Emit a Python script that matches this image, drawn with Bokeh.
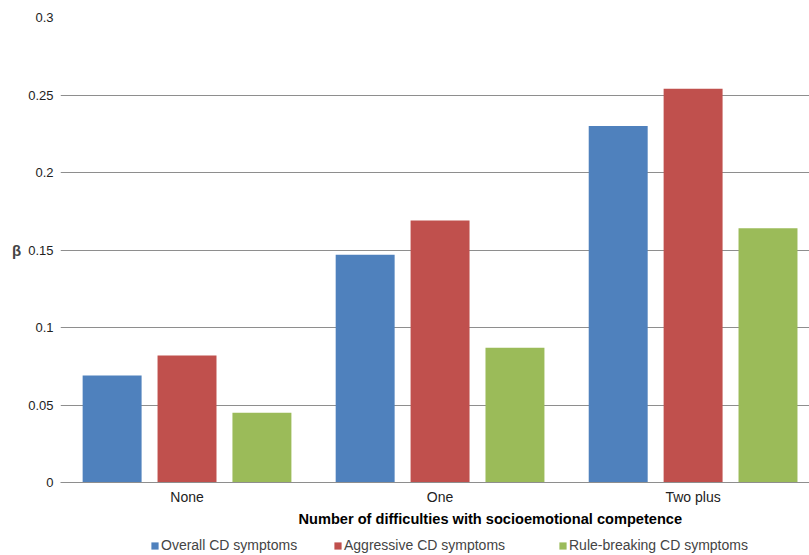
from bokeh.plotting import figure
from bokeh.layouts import column
from bokeh.models import (Range1d, FixedTicker, Legend, LegendItem, Title,
                          ColumnDataSource)
from bokeh.embed import file_html
from bokeh.resources import INLINE

categories = ["None", "One", "Two plus"]
series_names = ["Overall CD symptoms", "Aggressive CD symptoms", "Rule-breaking CD symptoms"]
overall = [0.069, 0.147, 0.230]
aggressive = [0.082, 0.169, 0.254]
rule_breaking = [0.045, 0.087, 0.164]
y_ticks = [0, 0.05, 0.1, 0.15, 0.2, 0.25, 0.3]
y_tick_labels = ["0", "0.05", "0.1", "0.15", "0.2", "0.25", "0.3"]
colors = ["#4F81BD", "#C0504D", "#9BBB59"]

FONT = "Liberation Sans"

p = figure(width=809, height=530, output_backend="svg", toolbar_location=None,
           x_range=Range1d(0, 2.96), y_range=Range1d(0, 0.3),
           min_border_left=60, min_border_right=0, min_border_top=17,
           min_border_bottom=48)
p.outline_line_color = None
p.background_fill_color = "white"
p.border_fill_color = "white"

offsets = [-0.296, 0.0, 0.296]
for vals, off, col in zip([overall, aggressive, rule_breaking], offsets, colors):
    src = ColumnDataSource(dict(x=[i + 0.5 + off for i in range(len(categories))], top=vals))
    p.vbar(x="x", top="top", width=0.233, bottom=0, source=src,
           fill_color=col, line_color=None)

# grid
p.xgrid.visible = False
p.ygrid.ticker = FixedTicker(ticks=y_ticks)
p.ygrid.grid_line_color = "#8E8E8E"
p.ygrid.grid_line_width = 1

# y axis
ya = p.yaxis[0]
ya.ticker = FixedTicker(ticks=y_ticks)
ya.major_label_overrides = {t: l for t, l in zip(y_ticks, y_tick_labels)}
ya.axis_line_color = None
ya.major_tick_line_color = None
ya.minor_tick_line_color = None
ya.major_tick_out = 0
ya.major_tick_in = 0
ya.minor_tick_out = 0
ya.major_label_standoff = 7
ya.major_label_text_font = FONT
ya.major_label_text_font_size = "13px"
ya.major_label_text_color = "#222222"
ya.axis_label = "β"
ya.axis_label_orientation = "horizontal"
ya.axis_label_text_font = FONT
ya.axis_label_text_font_style = "bold"
ya.axis_label_text_font_size = "15px"
ya.axis_label_standoff = 4

# x axis
xa = p.xaxis[0]
xa.ticker = FixedTicker(ticks=[0.5, 1.5, 2.5])
xa.major_label_overrides = {0.5: categories[0], 1.5: categories[1], 2.5: categories[2]}
xa.axis_line_color = "#8E8E8E"
xa.major_tick_line_color = None
xa.minor_tick_line_color = None
xa.major_tick_out = 0
xa.major_tick_in = 0
xa.minor_tick_out = 0
xa.major_label_standoff = 6
xa.major_label_text_font = FONT
xa.major_label_text_font_size = "14px"
xa.major_label_text_color = "#222222"

title = Title(text="Number of difficulties with socioemotional competence",
              align="left", offset=238, text_font=FONT, text_font_size="14.6px",
              text_font_style="bold", text_color="black", standoff=3)
p.add_layout(title, "below")

# legend strip (its frame is aligned with the main frame by the column layout)
lg = figure(width=809, height=25, output_backend="svg", toolbar_location=None,
            x_range=Range1d(0, 1), y_range=Range1d(0, 1),
            min_border=0)
lg.axis.visible = False
lg.grid.visible = False
lg.outline_line_color = None
legend_x = [90, 273, 498]
for name, col, lx in zip(series_names, colors, legend_x):
    r = lg.vbar(x=[5], top=[5], bottom=[4], width=0.1, fill_color=col, line_color=None)
    leg = Legend(items=[LegendItem(label=name, renderers=[r])],
                 orientation="horizontal", location=(lx, 2),
                 glyph_width=9, glyph_height=9, label_text_font=FONT,
                 label_text_font_size="14px", label_standoff=2,
                 padding=0, margin=0, border_line_color=None,
                 background_fill_alpha=0)
    lg.add_layout(leg, "center")

layout = column(p, lg, spacing=0)
open("out.html", "w").write(file_html(layout, INLINE))
